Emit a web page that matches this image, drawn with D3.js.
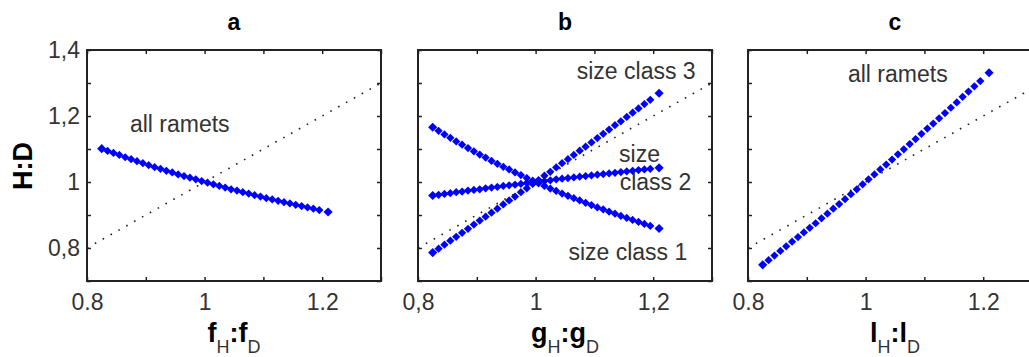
<!DOCTYPE html>
<html>
<head>
<meta charset="utf-8">
<script src="https://cdn.jsdelivr.net/npm/d3@7"></script>
<style>
  body { margin: 0; background: #fff; }
  svg { display: block; font-family: "Liberation Sans", Arial, sans-serif; }
</style>
</head>
<body>
<div id="visualContainer"></div>
<script>
// ratio on the x axis (same sampling for every panel)
var ratio = [0.825, 0.835, 0.845, 0.855, 0.865, 0.875, 0.885, 0.895, 0.905, 0.915,
             0.925, 0.935, 0.945, 0.955, 0.965, 0.975, 0.985, 0.995, 1.005, 1.015,
             1.025, 1.035, 1.045, 1.055, 1.065, 1.075, 1.085, 1.095, 1.105, 1.115,
             1.125, 1.135, 1.145, 1.155, 1.165, 1.175, 1.185, 1.195, 1.21];

// H:D values
var allRametsA = [1.101, 1.094, 1.088, 1.082, 1.075, 1.069, 1.063, 1.057, 1.051, 1.045,
                  1.040, 1.034, 1.029, 1.023, 1.018, 1.013, 1.008, 1.003, 0.998, 0.993,
                  0.988, 0.983, 0.978, 0.974, 0.969, 0.965, 0.960, 0.956, 0.951, 0.947,
                  0.943, 0.939, 0.935, 0.931, 0.927, 0.923, 0.919, 0.915, 0.909];
var sizeClass1 = [1.166, 1.155, 1.144, 1.134, 1.123, 1.113, 1.103, 1.093, 1.083, 1.074,
                  1.064, 1.055, 1.046, 1.038, 1.029, 1.021, 1.012, 1.004, 0.996, 0.988,
                  0.980, 0.973, 0.965, 0.958, 0.951, 0.944, 0.937, 0.930, 0.923, 0.917,
                  0.910, 0.904, 0.897, 0.891, 0.885, 0.879, 0.873, 0.867, 0.859];
var sizeClass2 = [0.959, 0.961, 0.964, 0.966, 0.969, 0.971, 0.974, 0.976, 0.978, 0.981,
                  0.983, 0.985, 0.988, 0.990, 0.992, 0.994, 0.997, 0.999, 1.001, 1.003,
                  1.005, 1.008, 1.010, 1.012, 1.014, 1.016, 1.018, 1.020, 1.022, 1.024,
                  1.026, 1.028, 1.030, 1.032, 1.034, 1.036, 1.038, 1.040, 1.043];
var sizeClass3 = [0.786, 0.798, 0.810, 0.822, 0.834, 0.846, 0.858, 0.871, 0.883, 0.895,
                  0.907, 0.919, 0.932, 0.944, 0.956, 0.969, 0.981, 0.994, 1.006, 1.019,
                  1.031, 1.044, 1.057, 1.069, 1.082, 1.095, 1.107, 1.120, 1.133, 1.146,
                  1.159, 1.172, 1.184, 1.197, 1.210, 1.223, 1.236, 1.249, 1.269];
var allRametsC = [0.749, 0.763, 0.777, 0.791, 0.805, 0.819, 0.833, 0.847, 0.861, 0.875,
                  0.890, 0.904, 0.919, 0.933, 0.948, 0.963, 0.978, 0.993, 1.008, 1.023,
                  1.038, 1.053, 1.068, 1.084, 1.099, 1.115, 1.130, 1.146, 1.162, 1.177,
                  1.193, 1.209, 1.225, 1.241, 1.258, 1.274, 1.290, 1.306, 1.331];

// ticks and labels
var xTicks = [0.8, 0.9, 1, 1.1, 1.2, 1.3];
var yTicks = [0.7, 0.8, 0.9, 1, 1.1, 1.2, 1.3, 1.4];
var xLabelsDot = {0.8: "0.8", 1: "1", 1.2: "1.2"};
var xLabelsComma = {0.8: "0,8", 1: "1", 1.2: "1,2"};
var yLabels = {0.8: "0,8", 1: "1", 1.2: "1,2", 1.4: "1,4"};

var panels = [
  {title: "a", left: 87, sym: "f", xLabels: xLabelsDot, yAxis: true,
   series: [allRametsA],
   notes: [{text: "all ramets", x: 0.873, y: 1.152}]},
  {title: "b", left: 418, sym: "g", xLabels: xLabelsComma, yAxis: false,
   series: [sizeClass1, sizeClass2, sizeClass3],
   notes: [{text: "size class 3", x: 1.070, y: 1.312},
           {text: "size", x: 1.142, y: 1.061},
           {text: "class 2", x: 1.143, y: 0.976},
           {text: "size class 1", x: 1.258, y: 0.764, anchor: "end"}]},
  {title: "c", left: 748, sym: "l", xLabels: xLabelsDot, yAxis: false,
   series: [allRametsC],
   notes: [{text: "all ramets", x: 0.970, y: 1.303}]}
];

var W = 1029, H = 357;
var plotTop = 50, plotBottom = 281, panelW = 294;

var svgCanvas = d3.select("#visualContainer")
  .append("svg")
  .attr("width", W)
  .attr("height", H);

// y label
svgCanvas.append("text")
  .attr("transform", "translate(32," + 166 + ") rotate(-90)")
  .attr("text-anchor", "middle")
  .attr("font-size", 27)
  .attr("font-weight", "bold")
  .attr("fill", "#000")
  .text("H:D");

panels.forEach(function(p) {
  var x = d3.scaleLinear().domain([0.8, 1.3]).range([p.left, p.left + panelW]);
  var y = d3.scaleLinear().domain([0.7, 1.4]).range([plotBottom, plotTop]);
  var g = svgCanvas.append("g");

  // ticks on all four sides, pointing inward
  g.append("g")
    .attr("transform", "translate(0," + plotBottom + ")")
    .call(d3.axisBottom(x).tickValues(xTicks).tickSize(-4).tickPadding(13)
      .tickFormat(function(d) { return p.xLabels[d] || ""; }));
  g.append("g")
    .attr("transform", "translate(0," + plotTop + ")")
    .call(d3.axisTop(x).tickValues(xTicks).tickSize(-4).tickFormat(""));
  g.append("g")
    .attr("transform", "translate(" + p.left + ",0)")
    .call(d3.axisLeft(y).tickValues(yTicks).tickSize(-4).tickPadding(7)
      .tickFormat(function(d) { return p.yAxis ? (yLabels[d] || "") : ""; }));
  g.append("g")
    .attr("transform", "translate(" + (p.left + panelW) + ",0)")
    .call(d3.axisRight(y).tickValues(yTicks).tickSize(-4).tickFormat(""));

  g.selectAll(".domain").remove();
  g.selectAll(".tick line").attr("stroke", "#222").attr("stroke-width", 1.5);
  g.selectAll(".tick text")
    .attr("font-size", 23)
    .attr("font-family", "Liberation Sans, Arial, sans-serif")
    .attr("fill", "#333");

  // box
  g.append("rect")
    .attr("x", p.left)
    .attr("y", plotTop)
    .attr("width", panelW)
    .attr("height", plotBottom - plotTop)
    .attr("fill", "none")
    .attr("stroke", "#222")
    .attr("stroke-width", 2);

  // markers
  p.series.forEach(function(vals) {
    var pts = vals.map(function(v, i) { return {x: ratio[i], y: v, end: i == 0 || i == vals.length - 1}; });
    g.selectAll(null)
      .data(pts)
      .enter()
        .append("path")
          .attr("d", function(d) { return d3.symbol().type(d3.symbolSquare).size(d.end ? 42 : 34)(); })
          .attr("transform", function(d) { return "translate(" + x(d.x) + "," + y(d.y) + ") rotate(45)"; })
          .attr("fill", "#0000ff");
  });

  // 1:1 dotted line
  g.append("line")
    .attr("x1", x(0.8)).attr("y1", y(0.8))
    .attr("x2", x(1.3)).attr("y2", y(1.3))
    .attr("stroke", "#222")
    .attr("stroke-width", 1.6)
    .attr("stroke-dasharray", "1.6,7.4");

  // annotations
  p.notes.forEach(function(n) {
    g.append("text")
      .attr("x", x(n.x))
      .attr("y", y(n.y))
      .attr("text-anchor", n.anchor || "start")
      .attr("font-size", 23)
      .attr("fill", "#333")
      .text(n.text);
  });

  // title
  g.append("text")
    .attr("x", p.left + panelW / 2)
    .attr("y", 30)
    .attr("text-anchor", "middle")
    .attr("font-size", 23)
    .attr("font-weight", "bold")
    .attr("fill", "#000")
    .text(p.title);

  // x label with subscripts
  var xl = g.append("text")
    .attr("x", p.left + panelW / 2)
    .attr("y", 342)
    .attr("text-anchor", "middle")
    .attr("fill", "#000");
  xl.append("tspan").attr("font-size", 27).attr("font-weight", "bold").text(p.sym);
  xl.append("tspan").attr("font-size", 18).attr("dy", 11).attr("fill", "#333").text("H");
  xl.append("tspan").attr("font-size", 27).attr("font-weight", "bold").attr("dy", -11).text(":");
  xl.append("tspan").attr("font-size", 27).attr("font-weight", "bold").text(p.sym);
  xl.append("tspan").attr("font-size", 18).attr("dy", 11).attr("fill", "#333").text("D");
});
</script>
</body>
</html>
